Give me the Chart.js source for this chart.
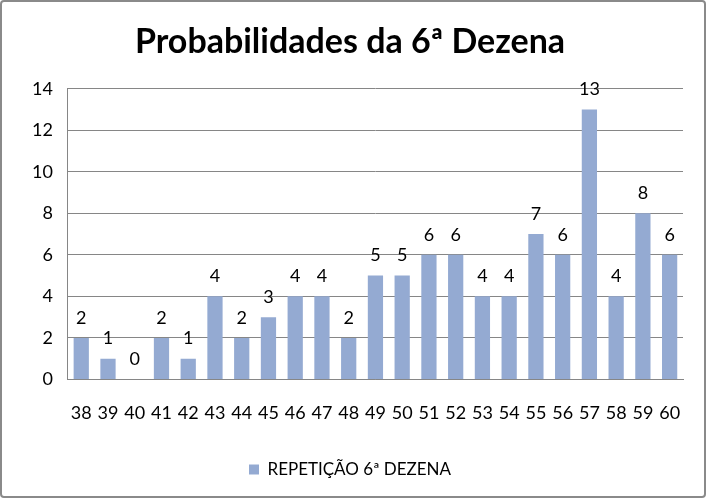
<!DOCTYPE html>
<html>
<head>
<meta charset="utf-8">
<script src="https://cdn.jsdelivr.net/npm/chart.js@4.4.0/dist/chart.umd.min.js"></script>
<style>
  html, body { margin: 0; padding: 0; background: #fff; }
  #wrap { width: 706px; height: 498px; }
</style>
</head>
<body>
<div id="wrap"><canvas id="grafico" width="706" height="498"></canvas></div>
<script>
// dados
const dezenas = ['38', '39', '40', '41', '42', '43', '44', '45', '46', '47', '48', '49',
                 '50', '51', '52', '53', '54', '55', '56', '57', '58', '59', '60'];
const repeticoes = [2, 1, 0, 2, 1, 4, 2, 3, 4, 4, 2, 5, 5, 6, 6, 4, 4, 7, 6, 13, 4, 8, 6];
const ticksY = [0, 2, 4, 6, 8, 10, 12, 14];

const fonte = "Lato, 'Open Sans', sans-serif";

// escreve o valor em cima de cada barra
const rotulos = {
    id: 'rotulos',
    afterDatasetsDraw(chart) {
        const ctx = chart.ctx;
        const meta = chart.getDatasetMeta(0);
        ctx.save();
        ctx.font = '18px ' + fonte;
        ctx.fillStyle = '#000';
        ctx.textAlign = 'center';
        ctx.textBaseline = 'middle';
        meta.data.forEach((barra, i) => {
            ctx.fillText(String(repeticoes[i]), barra.x, barra.y - 20);
        });
        ctx.restore();
    }
};

// moldura cinza em volta da imagem
const moldura = {
    id: 'moldura',
    afterDraw(chart) {
        const ctx = chart.ctx;
        ctx.save();
        ctx.strokeStyle = '#8a8a8a';
        ctx.lineWidth = 2;
        ctx.beginPath();
        ctx.roundRect(1, 1, chart.width - 2, chart.height - 2, 3);
        ctx.stroke();
        ctx.restore();
    }
};

const ctx = document.getElementById('grafico').getContext('2d');

new Chart(ctx, {
    type: 'bar',
    data: {
        labels: dezenas,
        datasets: [{
            label: 'REPETIÇÃO 6ª DEZENA',
            data: repeticoes,
            backgroundColor: '#94aad2',
            borderWidth: 0,
            barPercentage: 0.57,
            categoryPercentage: 1
        }]
    },
    options: {
        responsive: false,
        animation: false,
        layout: {
            padding: { left: 17, right: 23, top: 0, bottom: 10 }
        },
        scales: {
            x: {
                grid: { display: false },
                border: { display: true, color: '#868686', width: 1 },
                ticks: {
                    color: '#000',
                    padding: 15,
                    maxRotation: 0,
                    autoSkip: false,
                    font: { size: 18, family: fonte }
                }
            },
            y: {
                min: 0,
                max: 14,
                afterBuildTicks(axis) {
                    axis.ticks = ticksY.map(v => ({ value: v }));
                },
                grid: {
                    color: '#868686',
                    drawTicks: false
                },
                border: { display: true, color: '#868686', width: 1 },
                ticks: {
                    color: '#000',
                    padding: 15,
                    font: { size: 18, family: fonte }
                }
            }
        },
        plugins: {
            legend: {
                display: true,
                position: 'bottom',
                labels: {
                    color: '#000',
                    boxWidth: 10,
                    boxHeight: 10,
                    padding: 22,
                    font: { size: 17, family: fonte }
                }
            },
            tooltip: { enabled: false },
            title: {
                display: true,
                text: 'Probabilidades da 6ª Dezena',
                color: '#000',
                font: { size: 34, weight: 'bold', family: fonte },
                padding: { top: 22, bottom: 26 }
            }
        }
    },
    plugins: [rotulos, moldura]
});
</script>
</body>
</html>
